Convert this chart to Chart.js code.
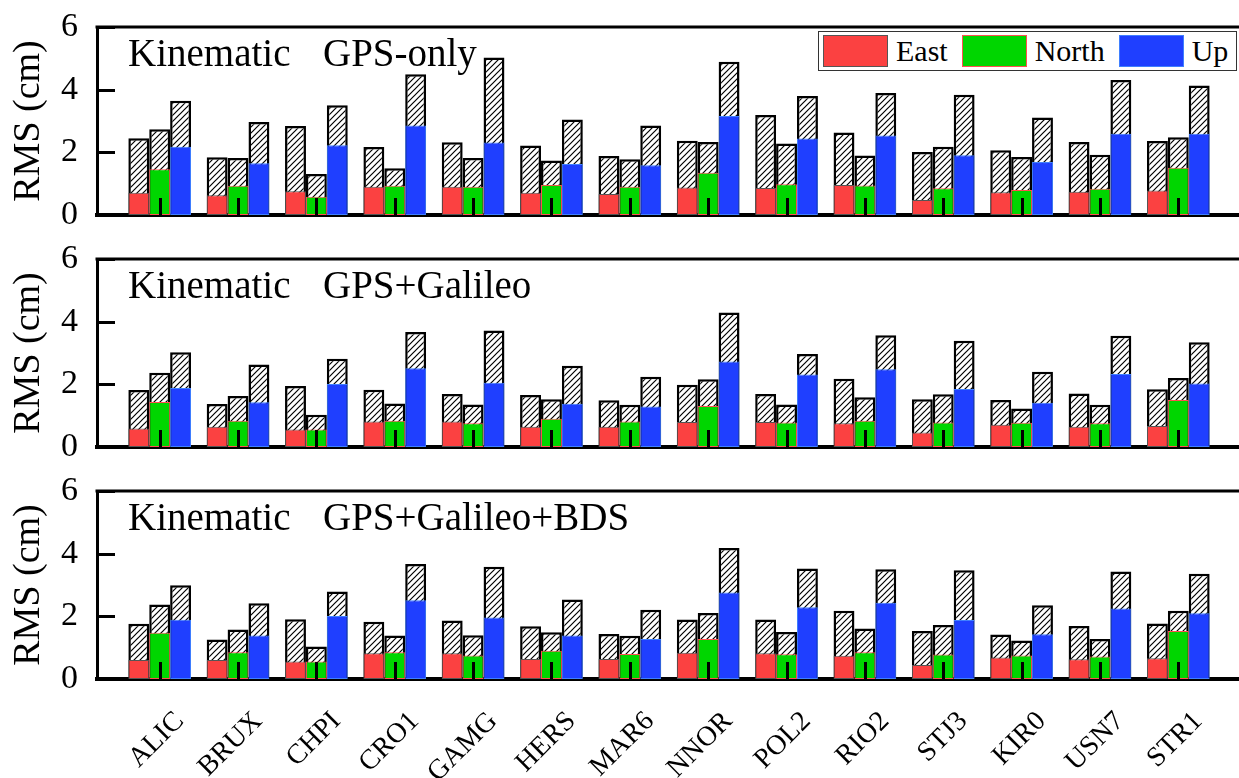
<!DOCTYPE html>
<html>
<head>
<meta charset="utf-8">
<script src="https://cdn.jsdelivr.net/npm/chart.js@4.4.1/dist/chart.umd.min.js"></script>
<style>
  html, body { margin: 0; padding: 0; background: #fff; overflow: hidden; }
  #wrap { position: relative; width: 1239px; height: 778px; overflow: hidden; background: #fff; }
  canvas { position: absolute; left: 0; }
  #legend { position: absolute; left: 818px; top: 31px; width: 413px; height: 38px; border: 1.5px solid #333;
            background: #fff; display: flex; align-items: center; padding-left: 4px; box-sizing: content-box;
            font-family: 'Liberation Serif', 'Times New Roman', serif; font-size: 30px; color: #000; }
  .sw { width: 63px; height: 30px; margin-right: 8px; flex: none; }
  .lt { margin-right: 14px; line-height: 1; }
</style>
</head>
<body>
<div id="wrap">
  <canvas id="c1" style="top:0px"></canvas>
  <canvas id="c2" style="top:232px"></canvas>
  <canvas id="c3" style="top:464px"></canvas>
  <div id="legend"></div>
</div>
<script>
// ---------------- data ----------------
const stations = ['ALIC','BRUX','CHPI','CRO1','GAMG','HERS','MAR6','NNOR','POL2','RIO2','STJ3','KIR0','USN7','STR1'];
const components = ['East','North','Up'];
const titlePrefix = 'Kinematic';
const panelModes = ['GPS-only','GPS+Galileo','GPS+Galileo+BDS'];
const yTickValues = [0, 2, 4, 6];

// Panel 1: GPS-only (hatched = total height, solid = lower coloured part)
const eastTotal1  = [2.45,1.84,2.84,2.17,2.32,2.22,1.88,2.37,3.19,2.63,2.01,2.07,2.33,2.36];
const eastSolid1  = [0.71,0.63,0.76,0.90,0.90,0.71,0.67,0.88,0.86,0.96,0.48,0.73,0.74,0.78];
const northTotal1 = [2.74,1.82,1.31,1.49,1.82,1.74,1.78,2.33,2.28,1.90,2.18,1.85,1.92,2.48];
const northSolid1 = [1.46,0.93,0.58,0.93,0.90,0.96,0.90,1.35,0.98,0.94,0.85,0.80,0.84,1.51];
const upTotal1    = [3.65,2.97,3.50,4.49,5.03,3.05,2.86,4.89,3.80,3.89,3.84,3.11,4.31,4.13];
const upSolid1    = [2.18,1.65,2.23,2.86,2.31,1.63,1.59,3.16,2.44,2.54,1.91,1.69,2.59,2.59];

// Panel 2: GPS+Galileo
const eastTotal2  = [1.82,1.37,1.95,1.83,1.69,1.66,1.49,1.99,1.69,2.18,1.52,1.50,1.71,1.84];
const eastSolid2  = [0.59,0.65,0.56,0.81,0.81,0.65,0.65,0.80,0.80,0.76,0.46,0.71,0.65,0.67];
const northTotal2 = [2.37,1.63,1.03,1.39,1.36,1.52,1.35,2.16,1.36,1.59,1.68,1.23,1.35,2.20];
const northSolid2 = [1.44,0.84,0.56,0.84,0.76,0.90,0.81,1.31,0.78,0.84,0.78,0.77,0.76,1.50];
const upTotal2    = [3.02,2.63,2.82,3.67,3.72,2.59,2.24,4.29,2.97,3.57,3.39,2.40,3.55,3.34];
const upSolid2    = [1.88,1.43,2.01,2.51,2.05,1.38,1.29,2.73,2.31,2.48,1.85,1.41,2.33,2.03];

// Panel 3: GPS+Galileo+BDS
const eastTotal3  = [1.76,1.26,1.91,1.83,1.87,1.68,1.44,1.90,1.90,2.18,1.53,1.42,1.69,1.77];
const eastSolid3  = [0.61,0.61,0.56,0.82,0.82,0.64,0.64,0.84,0.82,0.74,0.45,0.69,0.63,0.66];
const northTotal3 = [2.38,1.58,1.04,1.39,1.40,1.49,1.38,2.11,1.50,1.61,1.72,1.23,1.28,2.18];
const northSolid3 = [1.48,0.85,0.56,0.85,0.75,0.90,0.80,1.28,0.79,0.85,0.78,0.75,0.72,1.53];
const upTotal3    = [2.99,2.42,2.79,3.67,3.58,2.54,2.21,4.18,3.53,3.50,3.47,2.35,3.43,3.36];
const upSolid3    = [1.89,1.39,2.01,2.51,1.96,1.39,1.28,2.76,2.29,2.43,1.88,1.43,2.25,2.10];

// ---------------- styles ----------------
const SERIF = "'Liberation Serif', 'Times New Roman', serif";
const fillColors   = ['#fb4141', '#00d600', '#1f3fff'];
const borderColors = ['#555555', '#ff5050', '#3f7fff'];

function makeHatch() {
  const s = 6;
  const c = document.createElement('canvas');
  c.width = s; c.height = s;
  const g = c.getContext('2d');
  g.fillStyle = '#ffffff';
  g.fillRect(0, 0, s, s);
  g.strokeStyle = '#000000';
  g.lineWidth = 1.2;
  g.beginPath();
  g.moveTo(0, s); g.lineTo(s, 0);
  g.moveTo(-2, 2); g.lineTo(2, -2);
  g.moveTo(s - 2, s + 2); g.lineTo(s + 2, s - 2);
  g.stroke();
  return g.createPattern(c, 'repeat');
}
const hatch = makeHatch();

const toPoints = arr => arr.map((v, i) => ({ x: i + 1, y: v }));

const framePlugin = {
  id: 'frame',
  afterDatasetsDraw(chart, args, opts) {
    const { ctx, chartArea: a, scales: { x, y } } = chart;
    ctx.save();
    ctx.strokeStyle = '#000';
    ctx.lineWidth = 3;
    ctx.beginPath();
    ctx.moveTo(a.left - 1.5, a.top);
    ctx.lineTo(a.right + 2, a.top);
    ctx.moveTo(a.right, a.top);
    ctx.lineTo(a.right, a.bottom);
    // inward x tick marks
    for (let i = 0; i < x.ticks.length; i++) {
      const px = Math.round(x.getPixelForTick(i)) + 0.5;
      ctx.moveTo(px, a.bottom);
      ctx.lineTo(px, a.bottom - 17);
    }
    // inward y tick marks
    for (let i = 0; i < y.ticks.length; i++) {
      const py = Math.round(y.getPixelForTick(i)) + 0.5;
      ctx.moveTo(a.left, py);
      ctx.lineTo(a.left + 18, py);
    }
    ctx.stroke();
    // panel title
    ctx.fillStyle = '#000';
    ctx.font = '39px ' + SERIF;
    ctx.textBaseline = 'alphabetic';
    ctx.textAlign = 'left';
    ctx.fillText(titlePrefix, a.left + 31, a.top + 38.5);
    ctx.fillText(opts.mode, a.left + 226, a.top + 38.5);
    ctx.restore();
  }
};

function makePanel(id, h, padTop, xHeight, showLabels, mode, totals, solids) {
  const canvas = document.getElementById(id);
  canvas.width = 1244; canvas.height = h;
  const datasets = [];
  components.forEach((c, k) => {
    datasets.push({
      label: c,
      data: toPoints(solids[k]),
      backgroundColor: fillColors[k],
      borderColor: borderColors[k],
      borderWidth: 1,
      borderSkipped: false,
      stack: c
    });
  });
  components.forEach((c, k) => {
    datasets.push({
      label: c + ' (hatched)',
      data: toPoints(totals[k]),
      backgroundColor: hatch,
      borderColor: '#000',
      borderWidth: 2.5,
      borderSkipped: 'start',
      stack: c
    });
  });
  return new Chart(canvas, {
    type: 'bar',
    data: { datasets },
    plugins: [framePlugin],
    options: {
      responsive: false,
      maintainAspectRatio: false,
      animation: false,
      devicePixelRatio: 1,
      layout: { padding: { top: padTop, right: 3, left: 0, bottom: 0 } },
      datasets: { bar: { categoryPercentage: 0.8, barPercentage: 1.0 } },
      plugins: {
        legend: { display: false },
        tooltip: { enabled: false },
        frame: { mode }
      },
      scales: {
        x: {
          type: 'linear',
          offset: false,
          min: 0.2,
          max: 14.8,
          afterBuildTicks: s => { s.ticks = stations.map((_, i) => ({ value: i + 1 })); },
          afterFit: s => { s.height = xHeight; s.paddingLeft = 0; s.paddingRight = 0; },
          grid: { display: false, drawTicks: false, offset: false },
          border: { display: true, color: '#000', width: 4 },
          ticks: {
            display: showLabels,
            autoSkip: false,
            maxRotation: 45,
            minRotation: 45,
            padding: 26,
            labelOffset: 20,
            color: '#000',
            font: { family: SERIF, size: 28 },
            callback: v => stations[Math.round(v) - 1]
          }
        },
        y: {
          min: 0,
          max: 6,
          stacked: false,
          afterBuildTicks: s => { s.ticks = yTickValues.map(v => ({ value: v })); },
          afterFit: s => { s.width = 97; s.paddingTop = 0; s.paddingBottom = 0; },
          grid: { display: false, drawTicks: false },
          border: { display: true, color: '#000', width: 3 },
          ticks: { padding: 19, color: '#000', font: { family: SERIF, size: 34 } },
          title: { display: true, text: 'RMS (cm)', color: '#000', font: { family: SERIF, size: 38 }, padding: { top: 6, bottom: 0 } }
        }
      }
    }
  });
}

const ch1 = makePanel('c1', 232, 27, 17, false, panelModes[0],
  [eastTotal1, northTotal1, upTotal1], [eastSolid1, northSolid1, upSolid1]);
const ch2 = makePanel('c2', 232, 27, 17, false, panelModes[1],
  [eastTotal2, northTotal2, upTotal2], [eastSolid2, northSolid2, upSolid2]);
const ch3 = makePanel('c3', 314, 27, 99, true, panelModes[2],
  [eastTotal3, northTotal3, upTotal3], [eastSolid3, northSolid3, upSolid3]);

// HTML legend built from the first chart's coloured datasets
const legendEl = document.getElementById('legend');
ch1.data.datasets.slice(0, 3).forEach(ds => {
  const sw = document.createElement('span');
  sw.className = 'sw';
  sw.style.background = ds.backgroundColor;
  sw.style.border = '1px solid ' + ds.borderColor;
  const t = document.createElement('span');
  t.className = 'lt';
  t.textContent = ds.label;
  legendEl.appendChild(sw);
  legendEl.appendChild(t);
});
</script>
</body>
</html>
